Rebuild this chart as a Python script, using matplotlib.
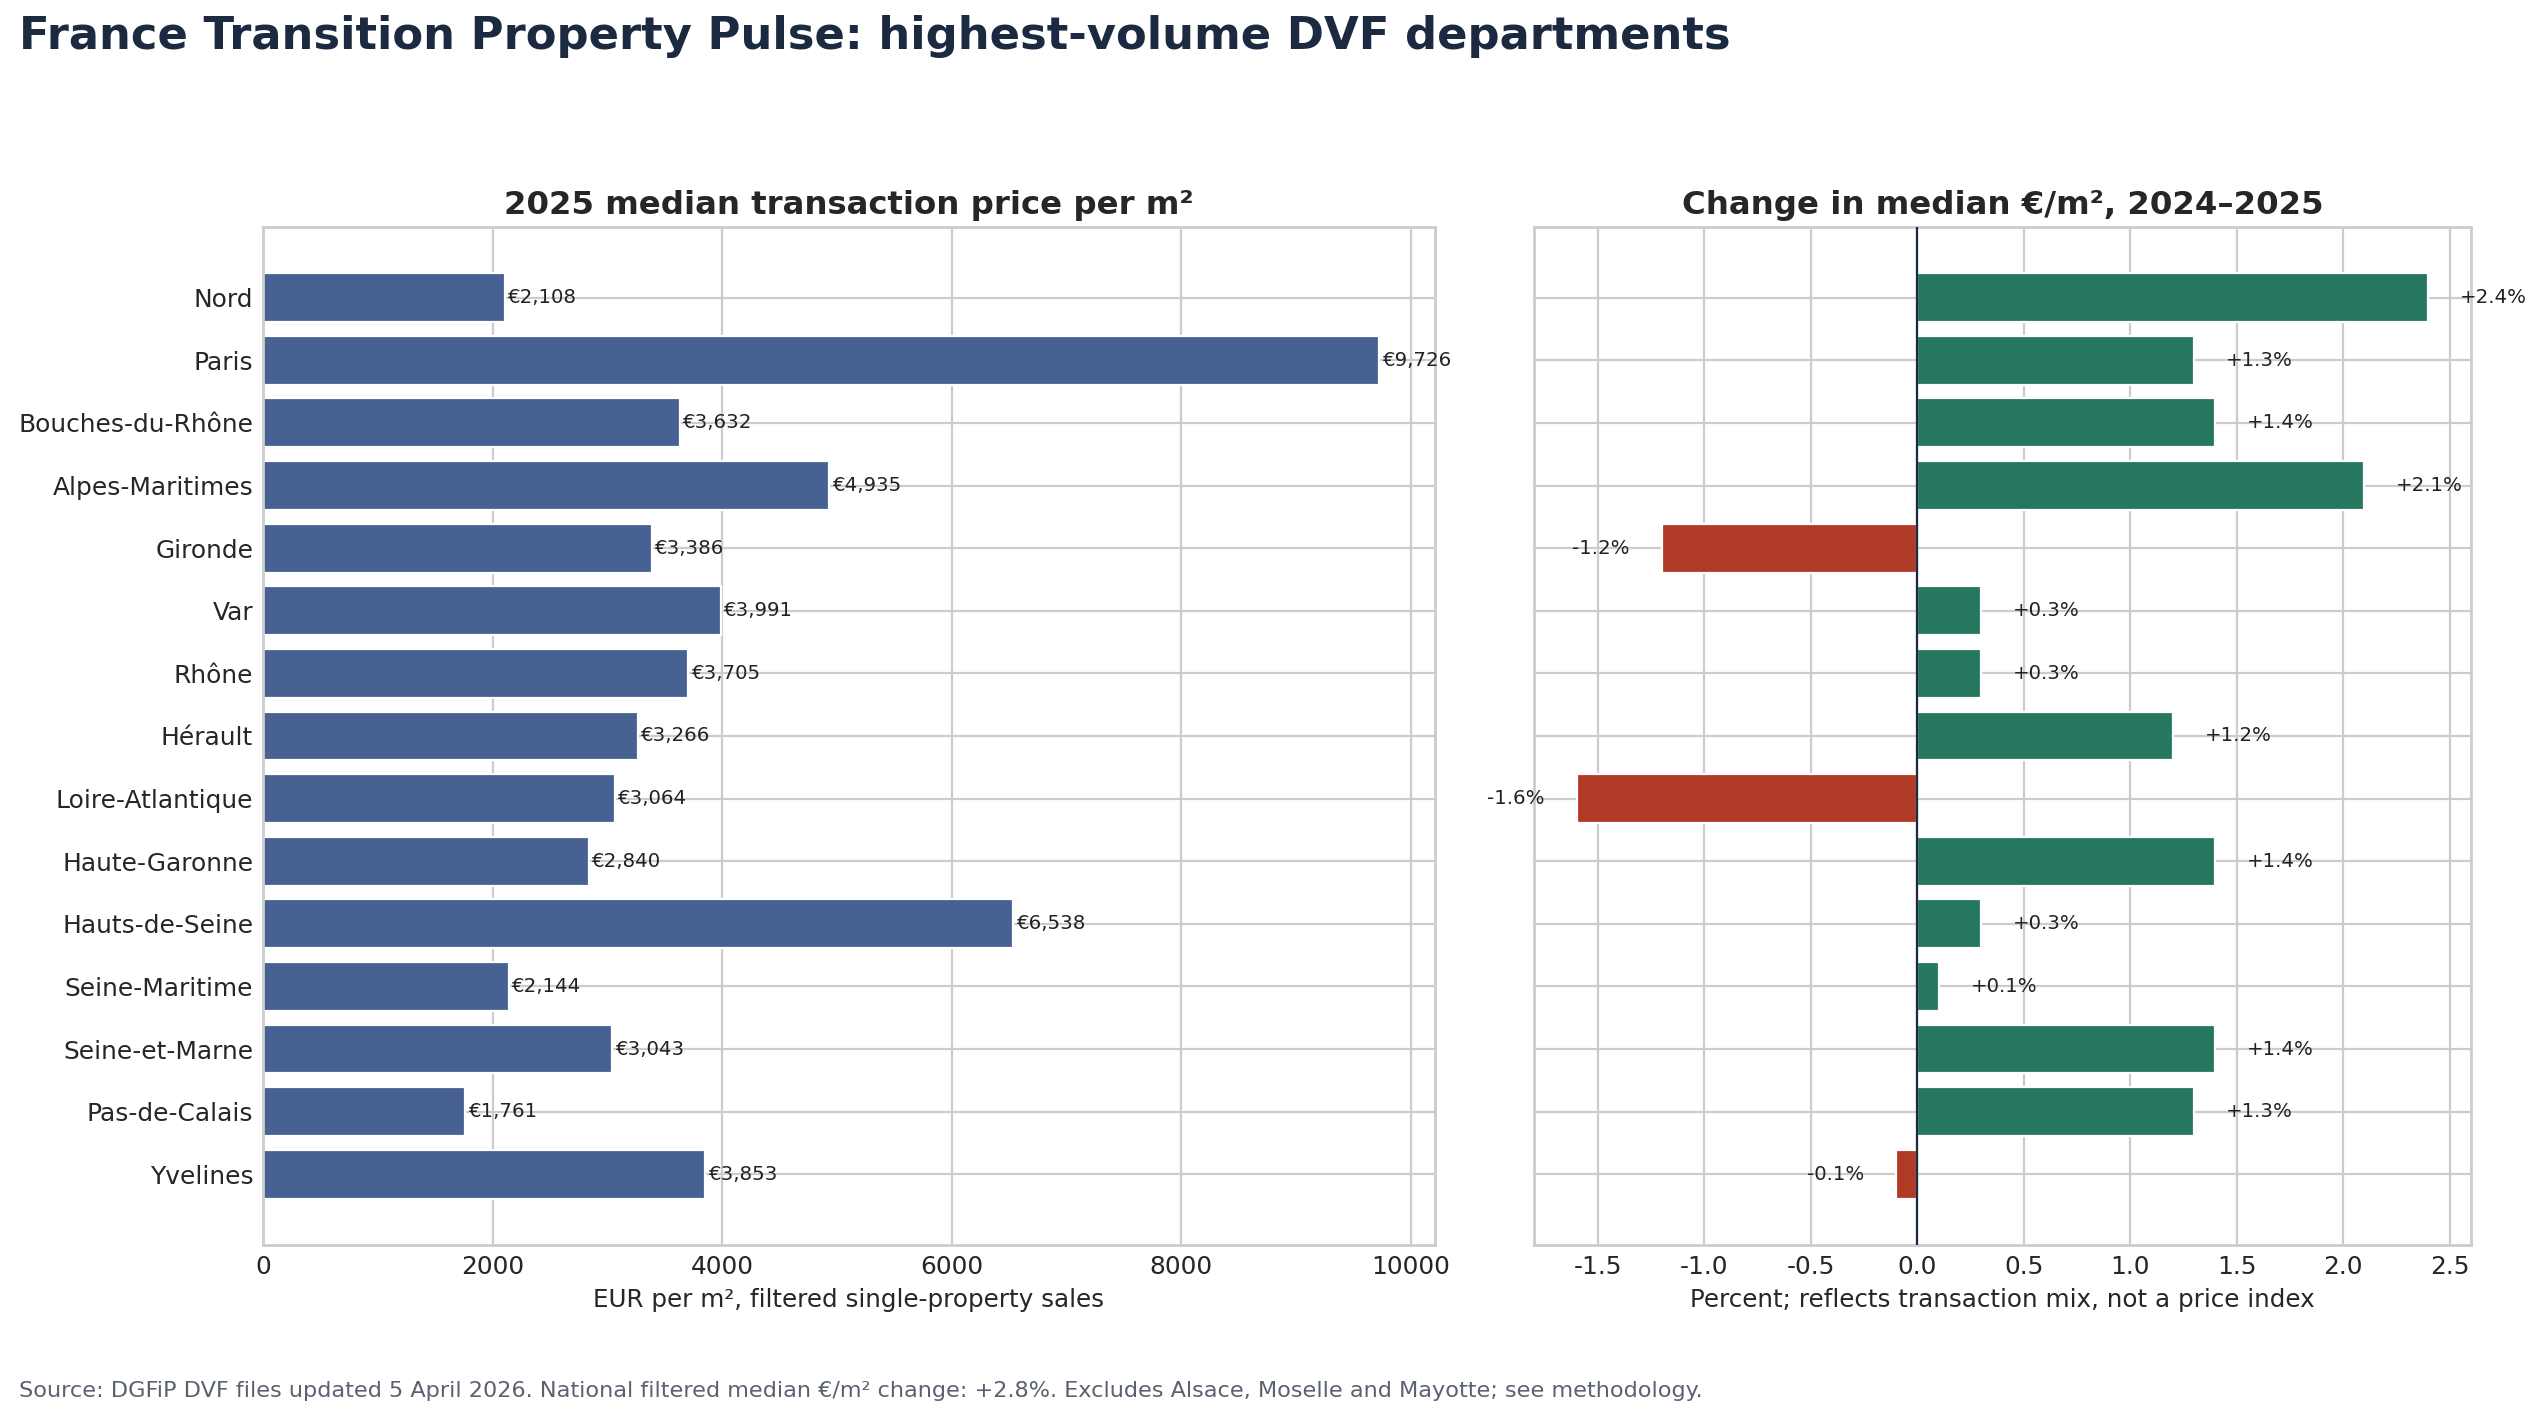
import matplotlib
matplotlib.use("Agg")
import matplotlib.pyplot as plt
import seaborn as sns
import numpy as np

departments = ["Nord", "Paris", "Bouches-du-Rhône", "Alpes-Maritimes", "Gironde", "Var",
               "Rhône", "Hérault", "Loire-Atlantique", "Haute-Garonne", "Hauts-de-Seine",
               "Seine-Maritime", "Seine-et-Marne", "Pas-de-Calais", "Yvelines"]
price_2025 = [2108, 9726, 3632, 4935, 3386, 3991, 3705, 3266, 3064, 2840, 6538, 2144, 3043, 1761, 3853]
change_pct = [2.4, 1.3, 1.4, 2.1, -1.2, 0.3, 0.3, 1.2, -1.6, 1.4, 0.3, 0.1, 1.4, 1.3, -0.1]

title = "France Transition Property Pulse: highest-volume DVF departments"
left_title = "2025 median transaction price per m²"
right_title = "Change in median €/m², 2024–2025"
left_xlabel = "EUR per m², filtered single-property sales"
right_xlabel = "Percent; reflects transaction mix, not a price index"
source = ("Source: DGFiP DVF files updated 5 April 2026. National filtered median €/m² change: +2.8%. "
          "Excludes Alsace, Moselle and Mayotte; see methodology.")

sns.set_theme(style="whitegrid")
plt.rcParams['font.family'] = ['DejaVu Sans']
plt.rcParams['axes.unicode_minus'] = False
plt.rcParams['xtick.major.size'] = 0
plt.rcParams['ytick.major.size'] = 0
plt.rcParams['xtick.major.pad'] = 4.4
plt.rcParams['ytick.major.pad'] = 4.4
plt.rcParams['axes.labelpad'] = 4.0

BLUE = "#466192"
GREEN = "#26775f"
RED = "#b03a26"
NAVY = "#1b2a41"

fig = plt.figure(figsize=(2546 / 160, 1423 / 160), dpi=160)
ax1 = fig.add_axes([0.1033, 0.1251, 0.4603, 0.7154])
ax2 = fig.add_axes([0.6025, 0.1251, 0.3680, 0.7154], sharey=ax1)

y = np.arange(len(departments))
h = 0.78

ax1.barh(y, price_2025, height=h, color=BLUE, zorder=2)
ax1.set_yticks(y)
ax1.set_yticklabels(departments, fontsize=11.2)
ax1.invert_yaxis()
for yi, v in zip(y, price_2025):
    ax1.text(v + 30, yi, f"€{v:,}", va="center", ha="left", fontsize=8.9, color="#222222", zorder=3)
ax1.set_title(left_title, fontsize=14.6, fontweight="bold", color="#262626")
ax1.set_xlabel(left_xlabel, fontsize=11.1)
ax1.tick_params(axis="x", labelsize=11.2)

colors = [GREEN if v >= 0 else RED for v in change_pct]
ax2.barh(y, change_pct, height=h, color=colors, zorder=2)
ax2.axvline(0, color=NAVY, linewidth=1.0, zorder=3)
for yi, v in zip(y, change_pct):
    if v >= 0:
        ax2.text(v + 0.15, yi, f"+{v:.1f}%", va="center", ha="left", fontsize=8.9, color="#222222")
    else:
        ax2.text(v - 0.15, yi, f"{v:.1f}%", va="center", ha="right", fontsize=8.9, color="#222222")
ax2.set_title(right_title, fontsize=14.6, fontweight="bold", color="#262626")
ax2.set_xlabel(right_xlabel, fontsize=11.1)
ax2.tick_params(axis="y", labelleft=False)
ax2.tick_params(axis="x", labelsize=11.2)
ax2.set_xticks([-1.5, -1.0, -0.5, 0.0, 0.5, 1.0, 1.5, 2.0, 2.5])

fig.text(0.0075, 1 - 36 / 1423, title, fontsize=20.2, fontweight="bold", color=NAVY, va="center", ha="left")
fig.text(0.0075, 1 - 1391 / 1423, source, fontsize=10.05, color="#5a6270", va="center", ha="left")

fig.savefig("out.png", dpi=160)
